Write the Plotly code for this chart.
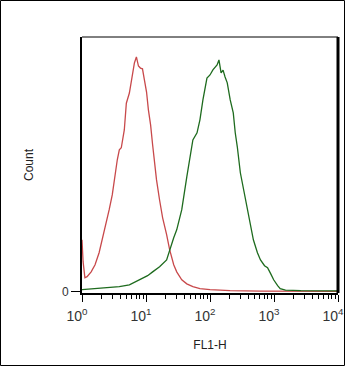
import plotly.graph_objects as go

# FL1-H values (log axis) and counts
red_x = [1.00, 1.04, 1.11, 1.20, 1.39, 1.60, 1.85, 2.22, 2.66, 2.97, 3.31, 3.56, 3.83, 4.11, 4.58,
         4.93, 5.50, 6.13, 6.59, 7.08, 7.62, 8.19, 8.81, 9.47, 10.2, 10.9, 11.8, 12.7, 13.6, 14.6,
         16.3, 18.2, 21.0, 23.4, 27.1, 30.2, 36.2, 43.4, 54.0, 69.6, 100, 206, 615, 1820, 10000]
red_y = [20.4, 11.8, 5.5, 5.9, 7.8, 10.6, 15.3, 23.5, 32.2, 38.0, 47.0, 51.8, 55.7, 56.5, 63.5,
         74.0, 78.0, 86.0, 89.8, 92.2, 88.6, 87.8, 87.5, 83.0, 78.4, 71.4, 65.5, 57.6, 49.8, 43.9,
         36.0, 29.0, 22.4, 16.5, 10.6, 7.8, 4.7, 3.1, 2.0, 1.2, 0.8, 0.4, 0.2, 0.1, 0.1]

green_x = [1.00, 1.29, 1.85, 2.66, 3.83, 5.50, 7.90, 9.47, 10.6, 12.7, 16.3, 21.0, 23.4, 27.1, 30.2,
           36.2, 43.4, 48.3, 54.0, 62.7, 69.6, 77.5, 89.6, 100, 111, 129, 138, 149, 160, 172,
           186, 207, 231, 248, 267, 298, 357, 427, 476, 551, 615, 711, 793, 886, 988, 1140,
           1250, 1510, 2620, 10000]
green_y = [0.8, 1.0, 1.2, 1.6, 2.0, 2.7, 4.7, 5.9, 6.3, 7.8, 9.8, 12.5, 16.5, 21.2, 24.3,
           32.2, 45.1, 51.8, 59.6, 62.4, 67.5, 75.3, 83.9, 85.1, 87.1, 89.0, 91.0, 85.9, 87.0, 84.3,
           82.0, 75.3, 70.2, 62.4, 56.9, 46.7, 36.0, 26.3, 20.4, 15.3, 12.5, 10.2, 9.4, 7.1, 4.7, 2.4,
           1.2, 0.6, 0.4, 0.3]

major_vals = [1, 10, 100, 1000, 10000]
major_text = ["10<sup>0</sup>", "10<sup>1</sup>", "10<sup>2</sup>", "10<sup>3</sup>", "10<sup>4</sup>"]
minor_vals = [m * d for d in [1, 10, 100, 1000] for m in range(2, 10)]

FONT = "Liberation Sans, Arial, sans-serif"

fig = go.Figure()
fig.add_trace(go.Scatter(x=red_x, y=red_y, mode="lines",
                         line=dict(color="#c8494b", width=1.3), showlegend=False))
fig.add_trace(go.Scatter(x=green_x, y=green_y, mode="lines",
                         line=dict(color="#1e6b1e", width=1.3), showlegend=False))

L, R, T, B = 82, 8, 37, 74
W, H = 346, 367
pw, ph = W - L - R, H - T - B

fig.update_layout(
    width=W, height=H,
    margin=dict(l=L, r=R, t=T, b=B, pad=0, autoexpand=False),
    paper_bgcolor="white", plot_bgcolor="white",
    font=dict(family=FONT, size=12, color="#222"),
    xaxis=dict(type="log", range=[0, 4], showgrid=False, zeroline=False,
               showline=True, linecolor="black", linewidth=2,
               tickmode="array", tickvals=major_vals, ticktext=major_text,
               ticks="outside", ticklen=7, tickwidth=1, tickcolor="black",
               tickfont=dict(size=14, family=FONT, color="#333"),
               ticklabelstandoff=2, ticklabelshift=-5, automargin=False,
               ticklabeloverflow="allow",
               minor=dict(tickmode="array", tickvals=minor_vals, ticks="outside",
                          ticklen=4, tickwidth=1, tickcolor="black"),
               title=dict(text="FL1-H", font=dict(size=12, family=FONT, color="#222"), standoff=18)),
    yaxis=dict(range=[-0.5, 100], showgrid=False, zeroline=False,
               showline=True, linecolor="black", linewidth=2,
               tickmode="array", tickvals=[0], ticktext=["0"],
               ticks="outside", ticklen=9, tickwidth=1, tickcolor="black",
               tickfont=dict(size=12, family=FONT, color="#333"),
               title=dict(text="Count", font=dict(size=12, family=FONT, color="#222"), standoff=26)),
)

# top (thin) and right (thick) frame lines
fig.add_shape(type="line", xref="paper", yref="paper", x0=0, x1=1, y0=1, y1=1,
              line=dict(color="black", width=1))
fig.add_shape(type="line", xref="paper", yref="paper", x0=1, x1=1, y0=0, y1=1,
              line=dict(color="black", width=3))
# outer image border
fig.add_shape(type="rect", xref="paper", yref="paper",
              x0=(0.5 - L) / pw, x1=(W - 1.5 - L) / pw,
              y0=-(B - 1.5) / ph, y1=1 + (T - 0.5) / ph,
              line=dict(color="black", width=1))

fig.write_html("out.html")
